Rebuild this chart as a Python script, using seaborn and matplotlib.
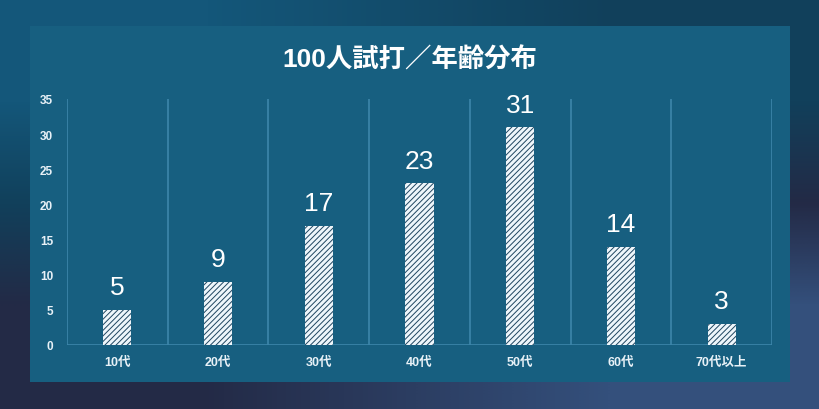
import numpy as np
import pandas as pd
import matplotlib
matplotlib.use("Agg")
import matplotlib.pyplot as plt
import seaborn as sns
from matplotlib.colors import LinearSegmentedColormap
from matplotlib.patches import Rectangle

# ============================
#       Data
# ============================
age_groups = ["10代", "20代", "30代", "40代", "50代", "60代", "70代以上"]
counts = [5, 9, 17, 23, 31, 14, 3]
y_ticks = [0, 5, 10, 15, 20, 25, 30, 35]
title_text = "100人試打／年齢分布"

df = pd.DataFrame({"age": age_groups, "count": counts})

# ============================
#       Style
# ============================
sns.set_theme(style="white")
fonts = ["Liberation Sans", "Noto Sans CJK JP", "DejaVu Sans"]
plt.rcParams["font.family"] = fonts
plt.rcParams["hatch.color"] = "#1f4560"
plt.rcParams["hatch.linewidth"] = 0.7

panel_color = "#175f80"
grid_color = "#3d86ab"
text_color = "#e8f1f7"

fig = plt.figure(figsize=(8.2, 4.1), dpi=100)

# background gradient + panel
bg = fig.add_axes([0, 0, 1, 1], zorder=-10)
grad = np.array([[0, 1], [2, 3]])
cmap = LinearSegmentedColormap.from_list(
    "bg", ["#14577a", "#11405b", "#232a46", "#34507c"])
bg.imshow(grad, cmap=cmap, aspect="auto", interpolation="bilinear",
          extent=[0, 1, 0, 1], vmin=0, vmax=3)
bg.add_patch(Rectangle((30 / 820, 1 - 383 / 410), 760 / 820, 356 / 410,
                       color=panel_color, transform=bg.transAxes, lw=0))
bg.set_xlim(0, 1)
bg.set_ylim(0, 1)
bg.axis("off")

# ============================
#       Bar chart
# ============================
ax = fig.add_axes([67 / 820, 1 - 346 / 410, 705 / 820, 246 / 410])
ax.set_facecolor("none")
sns.barplot(data=df, x="age", y="count", color="#eef6fb", width=0.28,
            saturation=1, ax=ax, zorder=3)

for p in ax.patches:
    p.set_hatch("//////")
    p.set_edgecolor("#1f4560")
    p.set_linewidth(0)

for i, v in enumerate(counts):
    ax.text(i, v + 1.5, str(v), ha="center", va="bottom",
            color="white", fontsize=19)

ax.set_xlim(-0.5, len(age_groups) - 0.5)
ax.set_ylim(0, 35)
ax.set_yticks(y_ticks)
ax.set_yticklabels([str(t) for t in y_ticks], fontsize=8.5,
                   fontweight="bold", color=text_color)
ax.set_xticks(range(len(age_groups)))
ax.set_xticklabels(age_groups, fontsize=9, fontweight="bold",
                   color=text_color)
ax.tick_params(axis="y", length=0, pad=10)
ax.tick_params(axis="x", length=0, pad=8)
ax.set_xlabel("")
ax.set_ylabel("")

# vertical separators between groups
for xb in np.arange(-0.5, len(age_groups), 1.0):
    ax.axvline(xb, color=grid_color, lw=1.2, zorder=1)
ax.axhline(0, color=grid_color, lw=1.2, zorder=1)
for s in ax.spines.values():
    s.set_visible(False)

fig.text(0.5, 1 - 60 / 410, title_text, ha="center", va="center",
         color="white", fontsize=19, fontweight="bold")

fig.savefig("out.png", dpi=100)
